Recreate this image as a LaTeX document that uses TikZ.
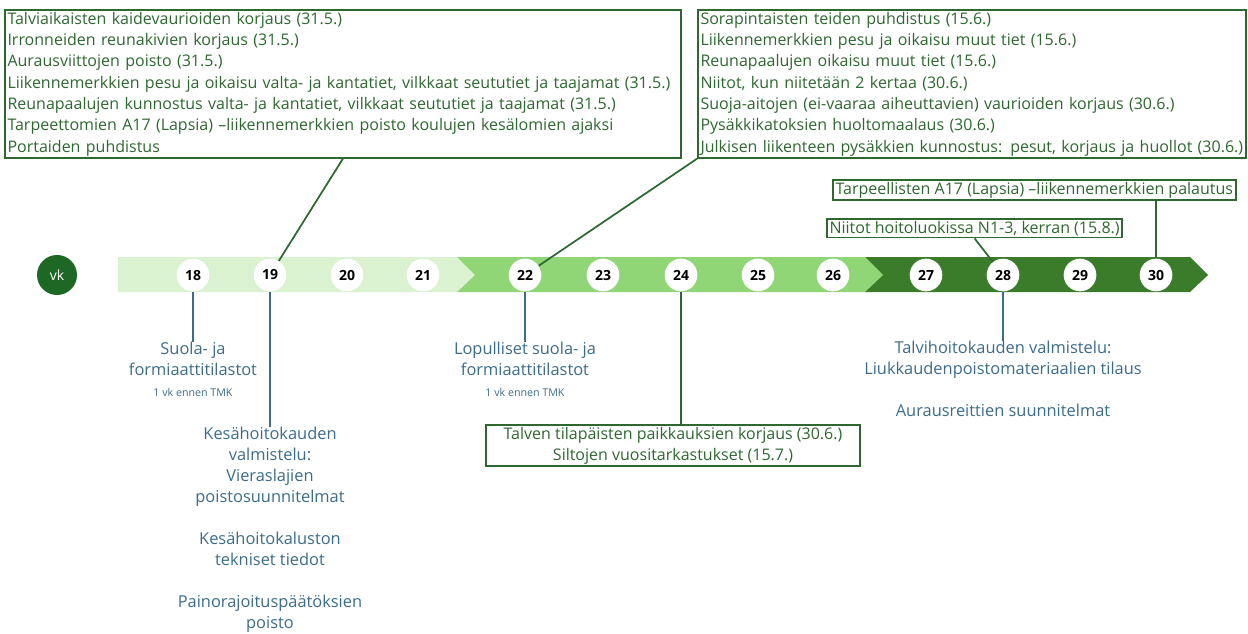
\documentclass[tikz,border=0pt]{standalone}
\usepackage{fontspec}
\setmainfont{Open Sans}
\usetikzlibrary{positioning,calc}

\definecolor{boxgreen}{RGB}{46,104,48}
\definecolor{noteblue}{RGB}{60,108,138}
\definecolor{bandlight}{RGB}{218,242,208}
\definecolor{bandmid}{RGB}{144,214,118}
\definecolor{banddark}{RGB}{58,124,42}
\definecolor{vkgreen}{RGB}{28,104,36}

\tikzset{
    taskbox/.style={draw=boxgreen, line width=1.3pt, text=boxgreen, align=left,
        inner xsep=2pt, inner ysep=1.5pt, font=\fontsize{12}{16}\selectfont},
    week/.style={circle, fill=white, minimum size=24.5pt, inner sep=0pt,
        font=\fontsize{10.5}{12}\selectfont\bfseries},
    note/.style={text=noteblue, align=center, inner sep=0pt,
        font=\fontsize{12.3}{15.75}\selectfont},
    tick/.style={draw=noteblue, line width=1.3pt},
    link/.style={draw=boxgreen, line width=1.3pt},
}
\newcommand{\smallnote}[1]{{\fontsize{8}{9}\selectfont #1}}

\begin{document}
\begin{tikzpicture}[x=0.75pt, y=-0.75pt]
    \useasboundingbox (0,0) rectangle (1248,633);

    % week band
    \fill[banddark] (865,257) -- (1190,257) -- (1208,275) -- (1190,292) -- (865,292) -- cycle;
    \fill[bandmid] (457,257) -- (865,257) -- (883,275) -- (865,292) -- (457,292) -- cycle;
    \fill[bandlight] (118,257) -- (457,257) -- (475,275) -- (457,292) -- (118,292) -- cycle;

    \node[circle, fill=vkgreen, text=white, minimum size=30pt, inner sep=0pt,
        font=\fontsize{10.5}{12}\selectfont] (vk) at (57,275) {vk};

    \foreach \wk/\xx in {18/193,19/270,20/347,21/423,22/525,23/603,24/681,
                         25/758,26/833,27/926,28/1003,29/1080,30/1156}
    {
        \node[week] (w\wk) at (\xx,275) {\wk};
    }

    % tasks above the band
    \node[taskbox, anchor=north west, text width=503pt] (kevat) at (4,9)
        {Talviaikaisten kaidevaurioiden korjaus (31.5.)\\
         Irronneiden reunakivien korjaus (31.5.)\\
         Aurausviittojen poisto (31.5.)\\
         Liikennemerkkien pesu ja oikaisu valta- ja kantatiet, vilkkaat seututiet ja taajamat (31.5.)\\
         Reunapaalujen kunnostus valta- ja kantatiet, vilkkaat seututiet ja taajamat (31.5.)\\
         Tarpeettomien A17 (Lapsia) –liikennemerkkien poisto koulujen kesälomien ajaksi\\
         Portaiden puhdistus};
    \node[taskbox, anchor=north west, text width=407pt] (kesa) at (697,9)
        {Sorapintaisten teiden puhdistus (15.6.)\\
         Liikennemerkkien pesu ja oikaisu muut tiet (15.6.)\\
         Reunapaalujen oikaisu muut tiet (15.6.)\\
         Niitot, kun niitetään 2 kertaa (30.6.)\\
         Suoja-aitojen (ei-vaaraa aiheuttavien) vaurioiden korjaus (30.6.)\\
         Pysäkkikatoksien huoltomaalaus (30.6.)\\
         Julkisen liikenteen pysäkkien kunnostus: pesut, korjaus ja huollot (30.6.)};
    \node[taskbox, anchor=north west] (palautus) at (832,179)
        {Tarpeellisten A17 (Lapsia) –liikennemerkkien palautus};
    \node[taskbox, anchor=north west] (niitot) at (826,218)
        {Niitot hoitoluokissa N1-3, kerran (15.8.)};

    \draw[link] (kevat.south) -- (w19);
    \draw[link] (kesa.south west) -- (w22);
    \draw[link] (palautus.south -| w30) -- (w30);
    \draw[link] (niitot.south) -- (w28);

    % tasks below the band
    \node[taskbox, align=center, minimum width=280pt, anchor=north] (paikkaus) at (673,424)
        {Talven tilapäisten paikkauksien korjaus (30.6.)\\
         Siltojen vuositarkastukset (15.7.)};
    \draw[link] (w24) -- (w24 |- paikkaus.north);

    \node[note, anchor=north] (suola) at (193,342)
        {Suola- ja\\ formiaattitilastot\\ \smallnote{1 vk ennen TMK}};
    \node[note, anchor=north] (kesavalm) at (270,427)
        {Kesähoitokauden\\ valmistelu:\\ Vieraslajien\\ poistosuunnitelmat\\[15.75pt]
         Kesähoitokaluston\\ tekniset tiedot\\[15.75pt]
         Painorajoituspäätöksien\\ poisto};
    \node[note, anchor=north] (lopulliset) at (525,342)
        {Lopulliset suola- ja\\ formiaattitilastot\\ \smallnote{1 vk ennen TMK}};
    \node[note, anchor=north] (talvivalm) at (1003,341)
        {Talvihoitokauden valmistelu:\\ Liukkaudenpoistomateriaalien tilaus\\[15.75pt]
         Aurausreittien suunnitelmat};

    \draw[tick] (w18) -- (suola);
    \draw[tick] (w19) -- (kesavalm);
    \draw[tick] (w22) -- (lopulliset);
    \draw[tick] (w28) -- (talvivalm);

\end{tikzpicture}
\end{document}
